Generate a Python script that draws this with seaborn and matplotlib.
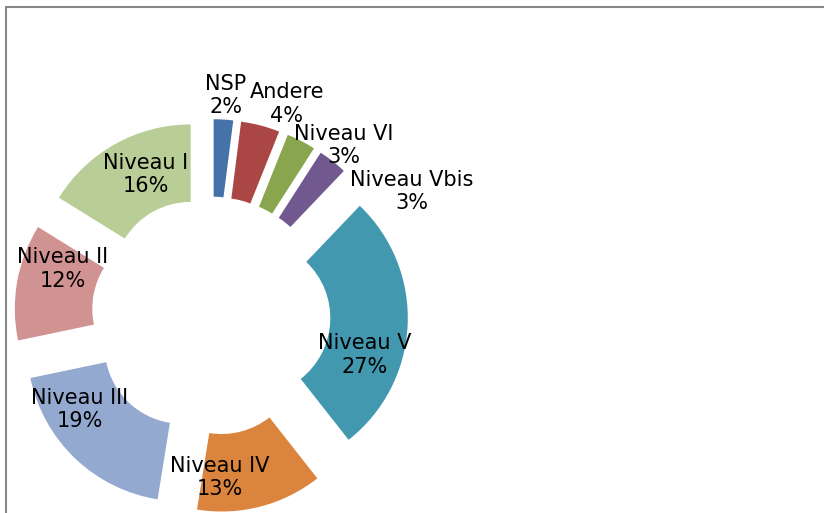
import numpy as np
import matplotlib
matplotlib.use("Agg")
import matplotlib.pyplot as plt
import seaborn as sns
from matplotlib.lines import Line2D

categories = ["NSP", "Andere", "Niveau VI", "Niveau Vbis", "Niveau V",
              "Niveau IV", "Niveau III", "Niveau II", "Niveau I"]
shares = [2, 4, 3, 3, 27, 13, 19, 12, 16]
colors = ["#4572A7", "#AA4643", "#89A54E", "#71588F", "#4198AF",
          "#DB843D", "#93A9CF", "#D19392", "#B9CD96"]

# label placement: degrees clockwise from top, distance in pie radii
label_angle = [3.9, 19.7, 37.9, 58.3, 104.2, 176.8, 234.6, 287.6, 335.1]
label_radius = [1.426, 1.453, 1.397, 1.524, 1.025, 1.041, 1.037, 1.002, 1.005]

sns.set_theme(style="white")
plt.rcParams["font.family"] = ["DejaVu Sans"]

W, H = 824, 513
cx, cy, R = 211, 316, 155  # pie centre / radius in pixels

fig = plt.figure(figsize=(W / 100, H / 100), dpi=100)
ax = fig.add_axes([0, 0, 1, 1])
ax.pie(shares, colors=colors, startangle=90, counterclock=False,
       explode=[0.27] * len(shares),
       wedgeprops=dict(width=0.5, linewidth=0))
ax.set_xlim(-cx / R, (W - cx) / R)
ax.set_ylim(-(H - cy) / R, cy / R)
ax.set_aspect("equal")
ax.axis("off")

for cat, val, ang, r in zip(categories, shares, label_angle, label_radius):
    a = np.deg2rad(ang)
    ax.text(r * np.sin(a), r * np.cos(a), f"{cat}\n{val}%",
            ha="center", va="center", fontsize=15, linespacing=1.2,
            color="black")

# chart area border (top and left visible)
fig.add_artist(Line2D([5.5 / W, 1], [1 - 6.5 / H] * 2,
                      transform=fig.transFigure, color="#878787", lw=1.5))
fig.add_artist(Line2D([5.5 / W] * 2, [0, 1 - 6.5 / H],
                      transform=fig.transFigure, color="#878787", lw=1.5))

fig.savefig("out.png", dpi=100)
plt.close(fig)
